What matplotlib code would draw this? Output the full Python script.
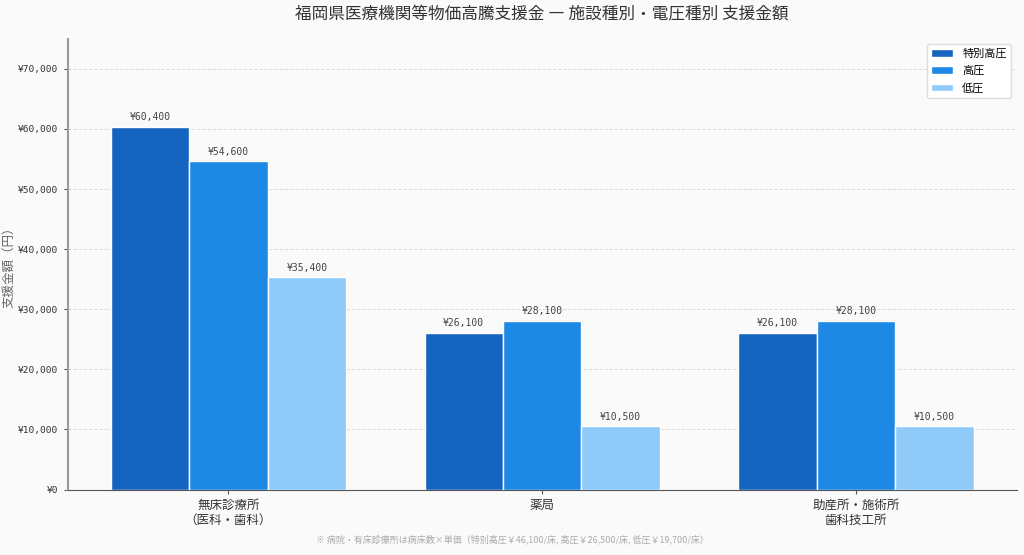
import numpy as np
import matplotlib
matplotlib.use("Agg")
import matplotlib.pyplot as plt

plt.rcParams["font.family"] = ["Noto Sans CJK JP", "DejaVu Sans"]

# === Data ===
CATEGORIES = ["無床診療所\n（医科・歯科）", "薬局", "助産所・施術所\n歯科技工所"]
SERIES = ["特別高圧", "高圧", "低圧"]
TOKUBETSU = [60400, 26100, 26100]
KOUATSU = [54600, 28100, 28100]
TEIATSU = [35400, 10500, 10500]
VALUES = [TOKUBETSU, KOUATSU, TEIATSU]
COLORS = ["#1565C0", "#1E88E5", "#90CAF9"]
MONO = ["DejaVu Sans Mono", "Noto Sans CJK JP"]

fig, ax = plt.subplots(figsize=(10.24, 5.55), dpi=100)
fig.patch.set_facecolor("#fafafa")
ax.set_facecolor("#fafafa")

x = np.arange(len(CATEGORIES))
w = 0.25
for i, (name, vals) in enumerate(zip(SERIES, VALUES)):
    bars = ax.bar(x + (i - 1) * w, vals, w, label=name, color=COLORS[i],
                  edgecolor="white", linewidth=1.0, zorder=3)
    for bar in bars:
        h = bar.get_height()
        ax.text(bar.get_x() + bar.get_width() / 2, h + 700, f"¥{h:,.0f}",
                ha="center", va="bottom", fontsize=7, color="#444444", family=MONO)

ax.set_xticks(x)
ax.set_xticklabels(CATEGORIES, fontsize=9, color="#333333")
ax.set_ylim(0, 75000)
ax.set_yticks(range(0, 70001, 10000))
ax.set_yticklabels([f"¥{v:,}" for v in range(0, 70001, 10000)], fontsize=6.8,
                   color="#333333", family=MONO)
ax.set_ylabel("支援金額（円）", fontsize=9, color="#666666", labelpad=2)
ax.grid(axis="y", linestyle="--", color="#dddddd", linewidth=0.7, zorder=0)
ax.spines["top"].set_visible(False)
ax.spines["right"].set_visible(False)
ax.spines["left"].set_color("#999999")
ax.spines["left"].set_linewidth(1.5)
ax.spines["bottom"].set_color("#555555")
ax.tick_params(axis="both", length=3, color="#555555")

ax.set_title("福岡県医療機関等物価高騰支援金 ― 施設種別・電圧種別 支援金額",
             fontsize=12, color="#333333", pad=14)
ax.legend(loc="upper right", fontsize=8, framealpha=1, edgecolor="#dddddd",
          labelspacing=0.6)

fig.text(0.5, 0.02, "※ 病院・有床診療所は病床数×単価（特別高圧￥46,100/床, 高圧￥26,500/床, 低圧￥19,700/床）",
         ha="center", va="bottom", fontsize=6.5, color="#aaaaaa")

fig.subplots_adjust(left=0.066, right=0.993, top=0.93, bottom=0.118)
fig.savefig("out.png", dpi=100, facecolor=fig.get_facecolor())
